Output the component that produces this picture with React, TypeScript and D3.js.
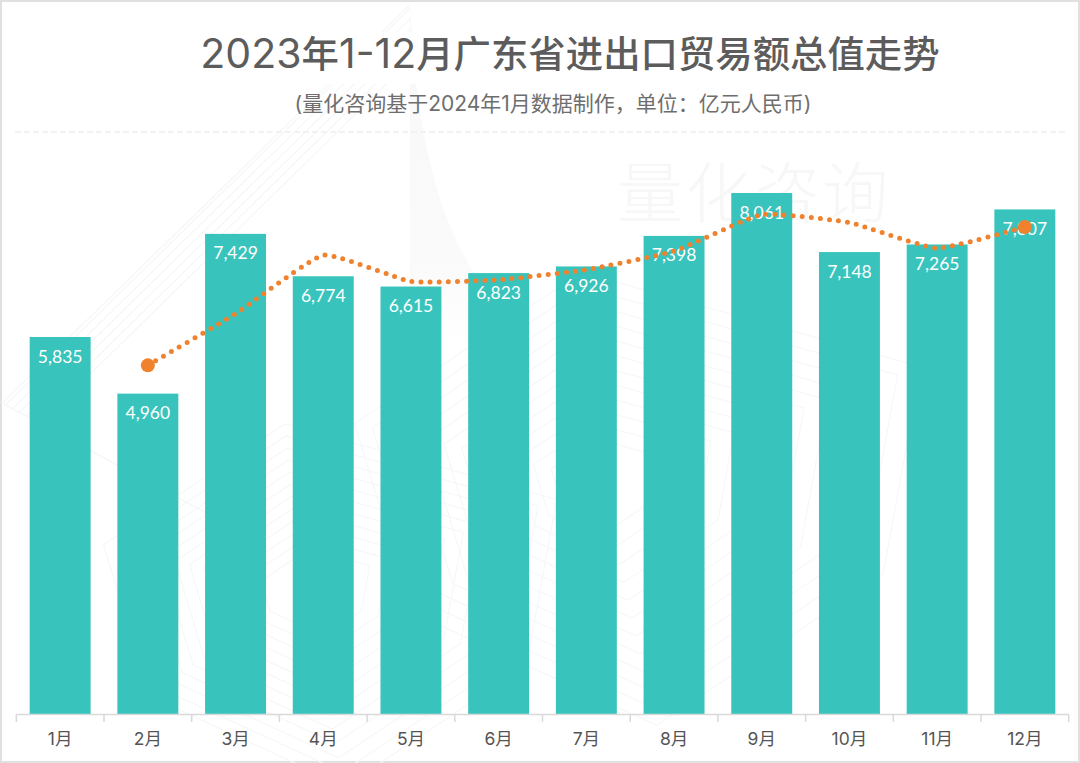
import React from "react";
import * as d3 from "d3";

const months = ["1月","2月","3月","4月","5月","6月","7月","8月","9月","10月","11月","12月"];
const tradeValues = [5835,4960,7429,6774,6615,6823,6926,7398,8061,7148,7265,7807];
const trendMonths = ["2月","3月","4月","5月","6月","7月","8月","9月","10月","11月","12月"];
const trendValues = [5397,6195,7101,6694,6719,6875,7162,7730,7604,7206,7536];
const titleParts = ["2023", "年", "1-12", "月广东省进出口贸易额总值走势"];
const subtitleText = "(量化咨询基于2024年1月数据制作\uFF0C单位\uFF1A亿元人民币)";
const watermarkText = "量化咨询";

const W = 1080, H = 763;
const FONT = "Inter,'Noto Sans CJK SC','Noto Sans',sans-serif";
const CJK = "'Noto Sans CJK SC','Noto Sans',sans-serif";
const baseY = 714.5;
const x = d3.scaleBand<string>().domain(months).range([16.3, 1068.7]).paddingInner(0.305).paddingOuter(0.1525);
const y = d3.scaleLinear().domain([0, 8061]).range([baseY, 193]);
const fmt = d3.format(",");
const mid = (m: string) => (x(m) as number) + x.bandwidth() / 2;
const step = x.step();
const lineGen = d3.line<number>()
  .x((_, i) => mid(trendMonths[i]))
  .y(d => y(d))
  .curve(d3.curveCardinal.tension(0.6));

const hatchOffsets = d3.range(-40, 420, 7.5);
const webScales = d3.range(0.3, 1.55, 0.11);
const web = (cx: number, cy: number, s: number) =>
  [[-130,-30],[-10,-110],[170,-60],[150,50],[30,130],[-100,70]]
    .map(([a, b]) => `${cx + a * s},${cy + b * s}`).join(" ");
const tickXs = d3.range(0, 13).map(i => 16.3 + i * step);

function Watermark() {
  const c = "#f7f7f7";
  return (
    <g fill="none" stroke={c}>
      <defs>
        <clipPath id="hatchClip">
          <path d="M410,5 L2,403 L210,515 L410,420 Z" />
        </clipPath>
        <linearGradient id="towerFade" x1="0" y1="0" x2="0" y2="1">
          <stop offset="0" stopColor="#f8f8f8" />
          <stop offset="0.75" stopColor="#fafafa" />
          <stop offset="1" stopColor="#ffffff" />
        </linearGradient>
      </defs>
      <g clipPath="url(#hatchClip)" strokeWidth={1.4}>
        {hatchOffsets.map(o => (
          <line key={o} x1={410 - o * 1.414} y1={5} x2={410 - o * 1.414 - 520} y2={515} />
        ))}
      </g>
      <path d="M410,5 L2,403 L210,515" strokeWidth={1.5} />
      <path d="M410,5 C416,130 440,300 560,345 L410,345 Z" fill="url(#towerFade)" stroke="none" />
      <g strokeWidth={1.2}>
        {webScales.map(s => <polygon key={"a" + s} points={web(300, 590, s)} />)}
        {webScales.map(s => <polygon key={"b" + s} points={web(600, 480, s * 1.25)} />)}
      </g>
      <rect x={190} y={32} width={760} height={52} fill="#fff" stroke="none" />
      <text x={617} y={217} fontFamily={CJK} fontSize={66} letterSpacing={2.5} fontWeight={300} fill="#f7f7f7" stroke="none">{watermarkText}</text>
    </g>
  );
}

export default function App() {
  return (
    <svg width={W} height={H} viewBox={`0 0 ${W} ${H}`} style={{ position: "absolute", left: 0, top: 0, background: "#fff" }}>
      <rect x={1} y={1} width={W - 2} height={H - 2} fill="#fff" stroke="#e0e0e0" strokeWidth={2} />
      <Watermark />
      <text x={570} y={68} textAnchor="middle" fontFamily={FONT} fontSize={37.4} fontWeight={500} fill="#5c5c5c">
        <tspan fontSize={41} fontWeight={400}>{titleParts[0]}</tspan>
        <tspan>{titleParts[1]}</tspan>
        <tspan fontSize={41} fontWeight={400}>{titleParts[2]}</tspan>
        <tspan>{titleParts[3]}</tspan>
      </text>
      <text x={553} y={111} textAnchor="middle" fontFamily={FONT} fontSize={21} fontWeight={400} fill="#6e6e6e">{subtitleText}</text>
      <line x1={15} x2={1066} y1={132} y2={132} stroke="#eeeeee" strokeWidth={1.5} strokeDasharray="6 3" />
      {months.map((m, i) => (
        <rect key={m} x={x(m)} y={y(tradeValues[i])} width={x.bandwidth()} height={baseY - y(tradeValues[i])} fill="#38c4bc" />
      ))}
      {months.map((m, i) => (
        <text key={m} x={mid(m)} y={y(tradeValues[i]) + 25.5} textAnchor="middle" fontFamily="Lato,'Noto Sans',sans-serif" fontSize={17.5} fill="#fff">{fmt(tradeValues[i])}</text>
      ))}
      <path d={`M16.3,${baseY}H1068.7`} stroke="#d9d9d9" strokeWidth={1.5} fill="none" />
      {tickXs.map(t => <line key={t} x1={t} x2={t} y1={baseY} y2={722} stroke="#d9d9d9" strokeWidth={1.5} />)}
      {months.map(m => (
        <text key={m} x={mid(m)} y={744.5} textAnchor="middle" fontFamily={FONT} fontSize={17.5} fill="#555">{m}</text>
      ))}
      <path d={lineGen(trendValues) as string} fill="none" stroke="#f0822d" strokeWidth={5} strokeLinecap="round" strokeDasharray="0 9.1" />
      <circle cx={mid(trendMonths[0])} cy={y(trendValues[0])} r={7} fill="#f0822d" />
      <circle cx={mid(trendMonths[10])} cy={y(trendValues[10])} r={7} fill="#f0822d" />
    </svg>
  );
}
